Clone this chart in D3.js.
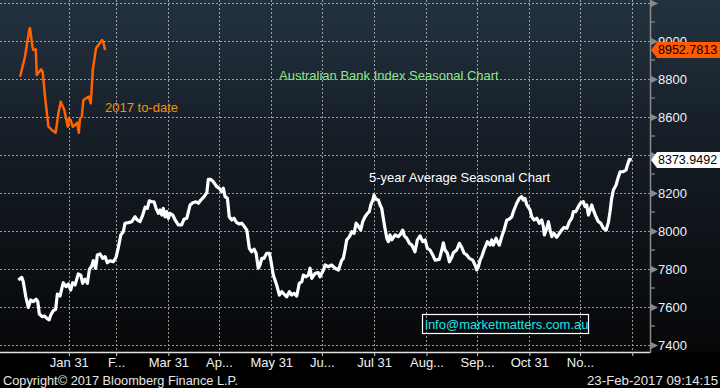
<!DOCTYPE html>
<html>
<head>
<meta charset="utf-8">
<script src="https://cdn.jsdelivr.net/npm/d3@7"></script>
<style>
  body { margin: 0; background: #000; }
  svg { display: block; font-family: "Liberation Sans", Arial, sans-serif; }
</style>
</head>
<body>
<svg id="chart"></svg>
<script>
// 5-year average seasonal (day of year, index level)
const avgDay = [1.1,3.1,4.0,5.5,7.0,8.4,10.0,11.6,12.6,13.5,15.3,16.5,17.9,19.3,20.3,21.8,23.2,24.2,25.8,27.7,
  29.3,30.7,32.1,33.3,34.7,36.6,38.1,39.2,40.6,42.0,43.2,44.6,45.5,46.9,47.9,49.5,51.1,52.5,53.8,55.4,
  57.4,59.0,60.3,61.8,63.3,64.3,66.3,68.3,70.2,71.6,73.2,74.8,76.2,77.5,78.7,80.1,81.5,82.7,84.1,85.1,
  86.1,87.0,88.0,89.0,90.0,91.0,92.6,94.0,95.9,97.9,99.3,100.9,102.9,104.5,106.4,107.8,109.2,111.2,112.8,113.7,
  115.1,116.7,118.7,120.2,121.6,122.6,123.6,125.0,126.1,127.6,128.9,130.5,132.1,133.5,134.9,136.5,138.0,139.4,140.8,142.0,
  143.3,144.3,145.4,146.7,148.3,149.9,150.7,152.2,154.2,155.8,157.2,158.6,160.2,161.7,163.1,164.5,166.1,167.6,169.1,170.0,
  171.6,173.0,174.0,175.0,177.0,178.9,179.9,181.9,182.9,184.8,186.8,188.8,190.8,192.8,193.7,194.7,195.7,197.3,198.7,200.1,
  201.3,202.6,204.0,205.2,206.6,208.0,209.1,210.0,211.2,211.9,213.1,214.5,215.5,216.5,217.4,218.4,219.5,220.4,221.4,222.4,
  224.4,226.3,227.3,228.9,229.9,231.3,232.9,234.3,236.2,237.6,239.2,240.8,242.2,243.5,245.1,246.7,248.1,250.6,252.1,253.0,
  254.0,255.4,256.6,258.0,258.9,260.9,262.5,263.9,265.3,266.9,268.4,270.4,271.8,272.8,273.8,274.8,275.8,277.1,278.3,279.1,
  280.7,281.7,282.6,284.3,285.0,286.2,287.6,289.0,290.6,292.1,293.6,294.5,296.5,298.1,299.5,300.4,301.4,302.5,304.4,305.4,
  306.8,308.4,309.9,311.3,312.3,312.9,314.3,315.3,316.3,317.3,318.6,320.2,321.8,323.2,324.6,326.2,327.7,329.1,330.1,331.5,
  333.0,334.5,336.0,337.0,338.0,339.0,340.0,341.0,341.9,343.5,344.9,346.3,347.9,349.5,350.8,351.8,352.8,353.8,355.4,356.8,
  357.8,359.7,361.3,362.1,363.3,364.7];
const avgValue = [7742,7756,7733,7654,7598,7637,7628,7641,7628,7563,7549,7553,7541,7532,7558,7581,7588,7668,7658,7728,
  7707,7721,7689,7728,7716,7774,7768,7725,7746,7725,7798,7816,7844,7804,7874,7879,7856,7865,7833,7844,
  7838,7862,7911,7979,7996,8041,8044,8049,8075,8058,8049,8084,8125,8119,8159,8154,8154,8119,8093,8111,
  8084,8119,8075,8102,8067,8093,8084,8058,8032,8032,8062,8067,8137,8149,8154,8146,8163,8181,8202,8272,
  8272,8259,8233,8225,8207,8225,8181,8172,8075,8058,8067,8044,8037,8041,8026,8005,7909,7891,7904,7883,
  7804,7821,7856,7856,7883,7883,7847,7768,7716,7663,7681,7668,7654,7681,7663,7672,7658,7725,7733,7768,
  7759,7768,7804,7751,7777,7781,7759,7795,7821,7812,7821,7804,7795,7847,7856,7900,7953,7970,7996,7988,
  8041,8026,8005,8049,8075,8093,8102,8137,8163,8189,8167,8163,8137,8119,8067,8014,7962,7944,7979,7953,
  7979,7970,7979,8005,7974,7962,7935,7926,7891,7953,7974,7944,7953,7909,7900,7874,7847,7851,7900,7938,
  7900,7883,7838,7862,7886,7900,7935,7914,7883,7874,7856,7847,7821,7795,7812,7847,7865,7900,7926,7944,
  7926,7953,7926,7962,7944,7926,7970,8005,8058,8062,8075,8102,8146,8172,8181,8163,8172,8137,8111,8075,
  8058,8067,8041,8058,8023,7979,8014,8049,8005,7970,7988,7967,7988,8005,8019,8014,8049,8067,8102,8102,
  8128,8149,8154,8128,8137,8084,8111,8137,8111,8075,8049,8041,8014,8005,8044,8102,8172,8216,8242,8286,
  8312,8312,8321,8347,8377,8373.9492];

// 2017 to date
const ytdDay = [2.1,5.0,7.6,8.0,9.4,10.0,11.4,12.0,13.5,14.5,15.5,16.9,18.9,20.9,23.2,24.8,26.2,28.3,30.4,31.1,
  32.1,33.3,34.7,36.0,36.9,37.6,38.7,39.6,41.2,42.8,44.0,45.2,47.1,49.5,50.7,51.4,52.5];
const ytdValue = [8812,8917,9062,9068,8970,8953,8956,8821,8838,8851,8838,8707,8549,8532,8517,8619,8681,8637,8549,8593,
  8584,8549,8558,8570,8517,8593,8602,8689,8698,8707,8672,8847,8961,8991,9005,8996,8952.7813];

// axis ticks
const monthEndDays = [31,59,90,120,151,181,212,243,273,304,334,365];
const monthLabels = ["Jan 31","F...","Mar 31","Ap...","May 31","Ju...","Jul 31","Aug...","Sep...","Oct 31","No...",""];
const yTicks = [7400,7600,7800,8000,8200,8400,8600,8800,9000,9200];
const yTickLabels = ["7400","7600","7800","8000","8200","","8600","8800","9000",""];
const yMinorTicks = [7500,7700,7900,8100,8300,8500,8700,8900,9100];

const config = { width: 720, height: 388, plotW: 650, plotH: 352 };

const svg = d3.select('#chart')
    .attr('width', config.width)
    .attr('height', config.height);

const defs = svg.append('defs');
const grad = defs.append('linearGradient')
    .attr('id', 'bg').attr('x1', 0).attr('y1', 0).attr('x2', 0).attr('y2', 1);
grad.append('stop').attr('offset', '0%').attr('stop-color', '#233240');
grad.append('stop').attr('offset', '45%').attr('stop-color', '#141b23');
grad.append('stop').attr('offset', '80%').attr('stop-color', '#0b0e12');
grad.append('stop').attr('offset', '100%').attr('stop-color', '#060708');

svg.append('rect').attr('width', config.width).attr('height', config.height).attr('fill', '#000');
svg.append('rect').attr('width', config.width).attr('height', config.plotH).attr('fill', 'url(#bg)');

const xscale = d3.scaleLinear().domain([-9.8, 375.5]).range([0, config.plotW]);
const yscale = d3.scaleLinear().domain([7363.2, 9215.8]).range([config.plotH, 0]);

// grid
const grid = svg.append('g')
    .attr('stroke', '#c8c8c8').attr('stroke-width', 1)
    .attr('stroke-dasharray', '2,2').attr('opacity', 0.75);
grid.selectAll('line.h').data(yTicks).join('line')
    .attr('class', 'h')
    .attr('x1', 0).attr('x2', config.plotW)
    .attr('y1', d => Math.round(yscale(d)) + 0.5).attr('y2', d => Math.round(yscale(d)) + 0.5);
grid.selectAll('line.v').data(monthEndDays).join('line')
    .attr('class', 'v')
    .attr('y1', 0).attr('y2', config.plotH)
    .attr('x1', d => Math.round(xscale(d)) + 0.5).attr('x2', d => Math.round(xscale(d)) + 0.5);

// x axis
const xaxis = d3.axisBottom(xscale)
    .tickValues(monthEndDays)
    .tickFormat((d, i) => monthLabels[i])
    .tickSize(4).tickPadding(2);
const xg = svg.append('g')
    .attr('transform', `translate(0, ${config.plotH})`)
    .call(xaxis);
xg.select('.domain').attr('stroke', '#e0e0e0').attr('stroke-width', 1.5).attr('d', `M0,0.5H${config.plotW}`);
xg.selectAll('.tick line').attr('stroke', '#d0d0d0');
xg.selectAll('.tick text').attr('fill', '#eef2f6').style('font-size', '13px')
    .style('font-family', '"Liberation Sans", Arial, sans-serif');

// y axis (right)
const yaxis = d3.axisRight(yscale)
    .tickValues(yTicks)
    .tickFormat((d, i) => yTickLabels[i])
    .tickSize(0).tickPadding(8);
const yg = svg.append('g')
    .attr('transform', `translate(${config.plotW}, 0)`)
    .call(yaxis);
yg.select('.domain').attr('stroke', '#8a8a8a').attr('stroke-width', 1.5).attr('d', `M0.5,0V${config.plotH + 1}`);
yg.selectAll('.tick text').attr('fill', '#eef2f6').style('font-size', '13px')
    .style('font-family', '"Liberation Sans", Arial, sans-serif');
yg.selectAll('.tick').append('path')
    .attr('d', 'M0,-4L8,0L0,4Z').attr('fill', '#8a8a8a');
yg.selectAll('line.minor').data(yMinorTicks).join('line')
    .attr('class', 'minor')
    .attr('x1', 0).attr('x2', 5)
    .attr('y1', d => yscale(d)).attr('y2', d => yscale(d))
    .attr('stroke', '#8a8a8a').attr('stroke-width', 1.2);

// lines
const avgData = avgDay.map((d, i) => ({ day: d, value: avgValue[i] }));
const ytdData = ytdDay.map((d, i) => ({ day: d, value: ytdValue[i] }));
const line = d3.line().x(d => xscale(d.day)).y(d => yscale(d.value));

svg.append('path').datum(avgData)
    .attr('d', line).attr('fill', 'none')
    .attr('stroke', '#ffffff').attr('stroke-width', 3.2)
    .attr('stroke-linejoin', 'round');
svg.append('path').datum(ytdData)
    .attr('d', line).attr('fill', 'none')
    .attr('stroke', '#ff6200').attr('stroke-width', 2.5)
    .attr('stroke-linejoin', 'round');

// last value badges
function badge(value, bg) {
    const y = yscale(value);
    const g = svg.append('g').attr('transform', `translate(${config.plotW + 1}, ${y})`);
    g.append('path')
        .attr('d', 'M0,0L6,-8H70V8H6Z')
        .attr('fill', bg);
    g.append('text')
        .attr('x', 7).attr('dy', '0.35em')
        .attr('fill', '#000').style('font-size', '12.5px')
        .text(d3.format('.4f')(value));
}
badge(ytdValue[ytdValue.length - 1], '#ff5a00');
badge(avgValue[avgValue.length - 1], '#ffffff');

// annotations
svg.append('text').attr('x', 279).attr('y', 75).attr('dy', '0.35em')
    .attr('fill', '#8ce68c').style('font-size', '13px')
    .text('Australian Bank Index Seasonal Chart');
svg.append('text').attr('x', 105).attr('y', 107).attr('dy', '0.35em')
    .attr('fill', '#f2900a').style('font-size', '13px')
    .text('2017 to-date');
svg.append('text').attr('x', 369).attr('y', 177).attr('dy', '0.35em')
    .attr('fill', '#ffffff').style('font-size', '13px')
    .text('5-year Average Seasonal Chart');

svg.append('rect').attr('x', 422.5).attr('y', 314.5).attr('width', 166).attr('height', 19)
    .attr('fill', 'none').attr('stroke', '#ffffff').attr('stroke-width', 1.2);
svg.append('text').attr('x', 425).attr('y', 324).attr('dy', '0.35em')
    .attr('fill', '#1ee3e8').style('font-size', '13px')
    .text('info@marketmatters.com.au');

// footer
svg.append('text').attr('x', 3).attr('y', 380).attr('dy', '0.35em')
    .attr('fill', '#e6e6e6').style('font-size', '13px')
    .attr('textLength', 235).attr('lengthAdjust', 'spacingAndGlyphs')
    .text('Copyright\u00a9 2017 Bloomberg Finance L.P.');
svg.append('text').attr('x', 718).attr('y', 380).attr('dy', '0.35em')
    .attr('text-anchor', 'end')
    .attr('fill', '#e6e6e6').style('font-size', '13px')
    .attr('textLength', 131).attr('lengthAdjust', 'spacingAndGlyphs')
    .text('23-Feb-2017 09:14:15');
</script>
</body>
</html>
